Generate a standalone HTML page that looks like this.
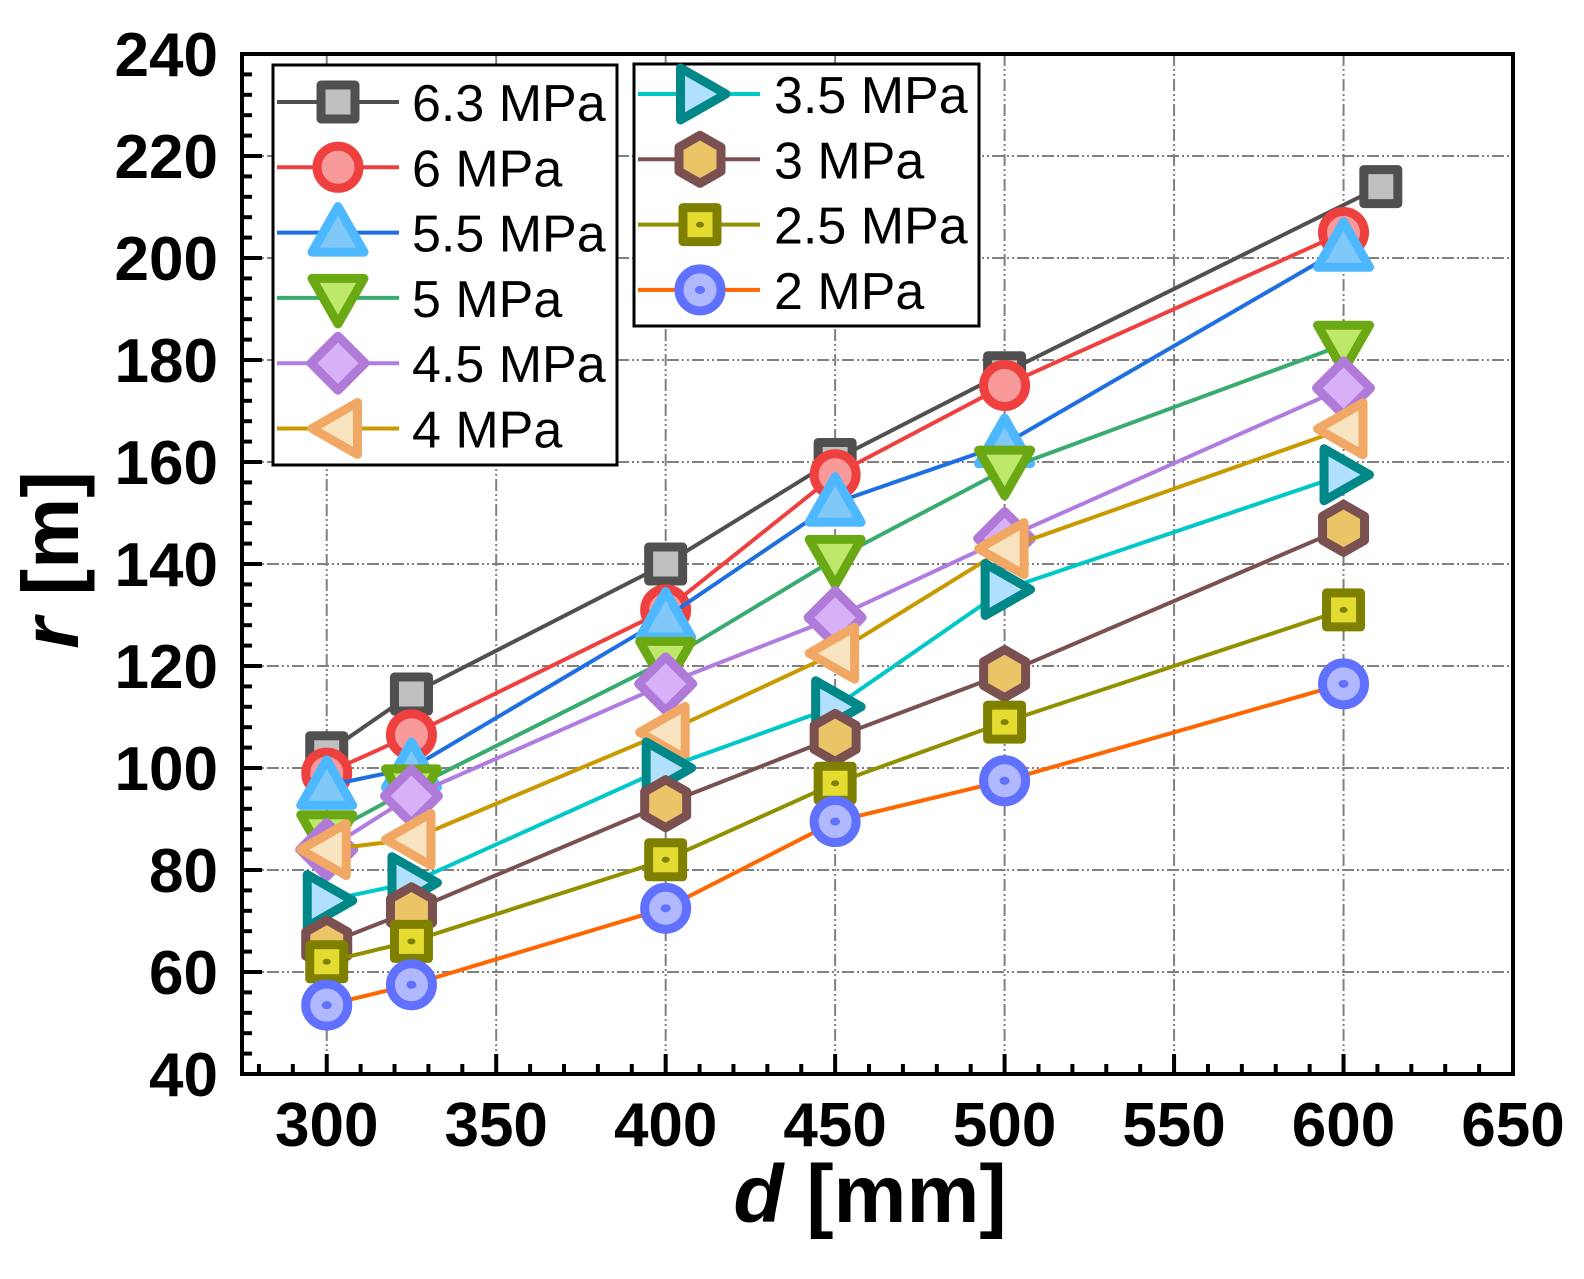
<!DOCTYPE html>
<html><head><meta charset="utf-8"><style>
html,body{margin:0;padding:0;background:#fff;}
svg{display:block;font-family:"Liberation Sans",sans-serif;}
</style></head><body>
<svg id="chart" width="1584" height="1279" viewBox="0 0 1584 1279" xmlns="http://www.w3.org/2000/svg">
<g id="grid"></g>
<g id="series"></g>
<g id="axes"></g>
<g id="legend"></g>
<text x="0" y="0" transform="translate(78,560) rotate(-90)" text-anchor="middle" font-size="80" font-weight="bold"><tspan font-style="italic">r</tspan> [m]</text>
<text x="870" y="1222" text-anchor="middle" font-size="82" font-weight="bold"><tspan font-style="italic">d</tspan> [mm]</text>
</svg>
<script>
const xs = [300, 325, 400, 450, 500, 600];
const seriesNames = ["6.3 MPa","6 MPa","5.5 MPa","5 MPa","4.5 MPa","4 MPa","3.5 MPa","3 MPa","2.5 MPa","2 MPa"];
const xs63 = [300, 325, 400, 450, 500, 611];
const s63 = [103, 114.5, 140, 160.5, 177.5, 214];
const s60 = [99, 106.5, 131, 157.5, 175, 205];
const s55 = [96.5, 100, 129.5, 152, 163.5, 202];
const s50 = [87, 96, 121, 141, 158.5, 183];
const s45 = [84, 94.5, 116.5, 129.5, 145, 174.5];
const s40 = [84, 86, 107, 122.5, 143, 166.5];
const s35 = [74, 77.5, 100, 112, 135, 157.5];
const s30 = [65.5, 72, 93, 106, 118.5, 147];
const s25 = [62, 66, 82, 97, 109, 131];
const s20 = [53.5, 57.5, 72.5, 89.5, 97.5, 116.5];
const xTicks = [300, 350, 400, 450, 500, 550, 600, 650];
const yTicks = [40, 60, 80, 100, 120, 140, 160, 180, 200, 220, 240];

const NS="http://www.w3.org/2000/svg";
const L=242,R=1513,T=54,B=1074, X0=275,X1=650,Y0=40,Y1=240;
const sx=v=>L+(v-X0)/(X1-X0)*(R-L);
const sy=v=>B-(v-Y0)/(Y1-Y0)*(B-T);
function mk(tag,attrs,parent){const e=document.createElementNS(NS,tag);for(const k in attrs)e.setAttribute(k,attrs[k]);parent.appendChild(e);return e;}
const grid=document.getElementById('grid'),axes=document.getElementById('axes'),ser=document.getElementById('series'),leg=document.getElementById('legend');
const gs={stroke:"#808080","stroke-width":2,"stroke-dasharray":"12 3 2 3 2 3"};
xTicks.forEach(v=>{if(v>X0&&v<X1){const g=mk('line',Object.assign({x1:sx(v),x2:sx(v),y1:T,y2:B},gs),grid);

}});
yTicks.forEach(v=>{if(v>Y0&&v<Y1){const g=mk('line',Object.assign({x1:L,x2:R,y1:sy(v),y2:sy(v)},gs),grid);

}});
const fr=mk('rect',{x:L,y:T,width:R-L,height:B-T,fill:"none",stroke:"#000","stroke-width":4},axes);


for(let v=280;v<=650;v+=10){const maj=xTicks.includes(v);mk('line',{x1:sx(v),x2:sx(v),y1:B,y2:B-(maj?20:10),stroke:"#000","stroke-width":4},axes);}
for(let v=40;v<=240;v+=4){const maj=yTicks.includes(v);mk('line',{x1:L,x2:L+(maj?20:10),y1:sy(v),y2:sy(v),stroke:"#000","stroke-width":4},axes);}
xTicks.forEach(v=>{const t=mk('text',{x:sx(v),y:1146,"text-anchor":"middle","font-size":62,"font-weight":"bold"},axes);t.textContent=v;

});
yTicks.forEach(v=>{const t=mk('text',{x:218,y:sy(v)+22,"text-anchor":"end","font-size":62,"font-weight":"bold"},axes);t.textContent=v;

});

const styles=[
{line:"#505050",fill:"#c0c0c0",stroke:"#505050",m:"square"},
{line:"#ef4040",fill:"#f89a9a",stroke:"#ef4040",m:"circle"},
{line:"#1e6fe0",fill:"#80c8f8",stroke:"#4db8ff",m:"tri-up"},
{line:"#3aab6e",fill:"#bde86a",stroke:"#6aa814",m:"tri-down"},
{line:"#b07ce0",fill:"#d8b0f8",stroke:"#b07ad8",m:"diamond"},
{line:"#c89a00",fill:"#f8e4c0",stroke:"#f0a864",m:"tri-left"},
{line:"#00c8c8",fill:"#b0e0fc",stroke:"#008888",m:"tri-right"},
{line:"#7a5050",fill:"#ecc468",stroke:"#7a5050",m:"hexagon"},
{line:"#909000",fill:"#e4dc30",stroke:"#808000",m:"square-dot"},
{line:"#ff6600",fill:"#b0b8ff",stroke:"#6070ff",m:"circle-dot"}];
const data=[s63,s60,s55,s50,s45,s40,s35,s30,s25,s20];

function marker(g,type,cx,cy,st){
 const a={fill:st.fill,stroke:st.stroke,"stroke-width":9,"stroke-linejoin":"round"};
 let e;
 if(type==="square"||type==="square-dot"){e=mk('rect',Object.assign({x:cx-17,y:cy-17,width:34,height:34},a),g);
  if(type==="square-dot")mk('ellipse',{cx:cx,cy:cy,rx:4,ry:3,fill:st.stroke},g);}
 else if(type==="circle"||type==="circle-dot"){e=mk('circle',Object.assign({cx:cx,cy:cy,r:21},a),g);
  if(type==="circle-dot")mk('ellipse',{cx:cx,cy:cy,rx:5,ry:4,fill:st.stroke},g);}
 else{let p;const s=26;
  if(type==="tri-up")p=[[0,-s],[s,s*0.75],[-s,s*0.75]];
  else if(type==="tri-down")p=[[0,s],[s,-s*0.75],[-s,-s*0.75]];
  else if(type==="tri-left")p=[[-s,0],[s*0.75,-s],[s*0.75,s]];
  else if(type==="tri-right")p=[[s,0],[-s*0.75,-s],[-s*0.75,s]];
  else if(type==="diamond")p=[[0,-27],[27,0],[0,27],[-27,0]];
  else p=[[0,-24],[21,-12],[21,12],[0,24],[-21,12],[-21,-12]];
  e=mk('polygon',Object.assign({points:p.map(q=>(cx+q[0])+","+(cy+q[1])).join(" ")},a),g);}
 return e;
}
data.forEach((arr,i)=>{
 const st=styles[i];const xv=i===0?xs63:xs;
 const g=mk('g',{},ser);
 
 
 const ln=mk('polyline',{points:arr.map((v,j)=>sx(xv[j])+","+sy(v)).join(" "),fill:"none",stroke:st.line,"stroke-width":4},g);
 
 
 arr.forEach((v,j)=>{const m=marker(g,st.m,sx(xv[j]),sy(v),st);
  
  });
});
const b1=mk('rect',{x:273,y:65,width:344,height:400,fill:"#fff",stroke:"#000","stroke-width":3},leg);


const b2=mk('rect',{x:634,y:64,width:345,height:262,fill:"#fff",stroke:"#000","stroke-width":3},leg);


seriesNames.forEach((n,i)=>{
 const st=styles[i];let lx,cy,mx,tx;
 if(i<6){lx=277;cy=102+i*65.3;mx=338;tx=412;}else{lx=638;cy=94+(i-6)*65.3;mx=700;tx=774;}
 const g=mk('g',{},leg);
 
 
 mk('line',{x1:lx,x2:lx+122,y1:cy,y2:cy,stroke:st.line,"stroke-width":4},g);
 marker(g,st.m,mx,cy,st);
 const t=mk('text',{x:tx,y:cy+19,"font-size":52},g);t.textContent=n;
});
</script>
</body></html>
